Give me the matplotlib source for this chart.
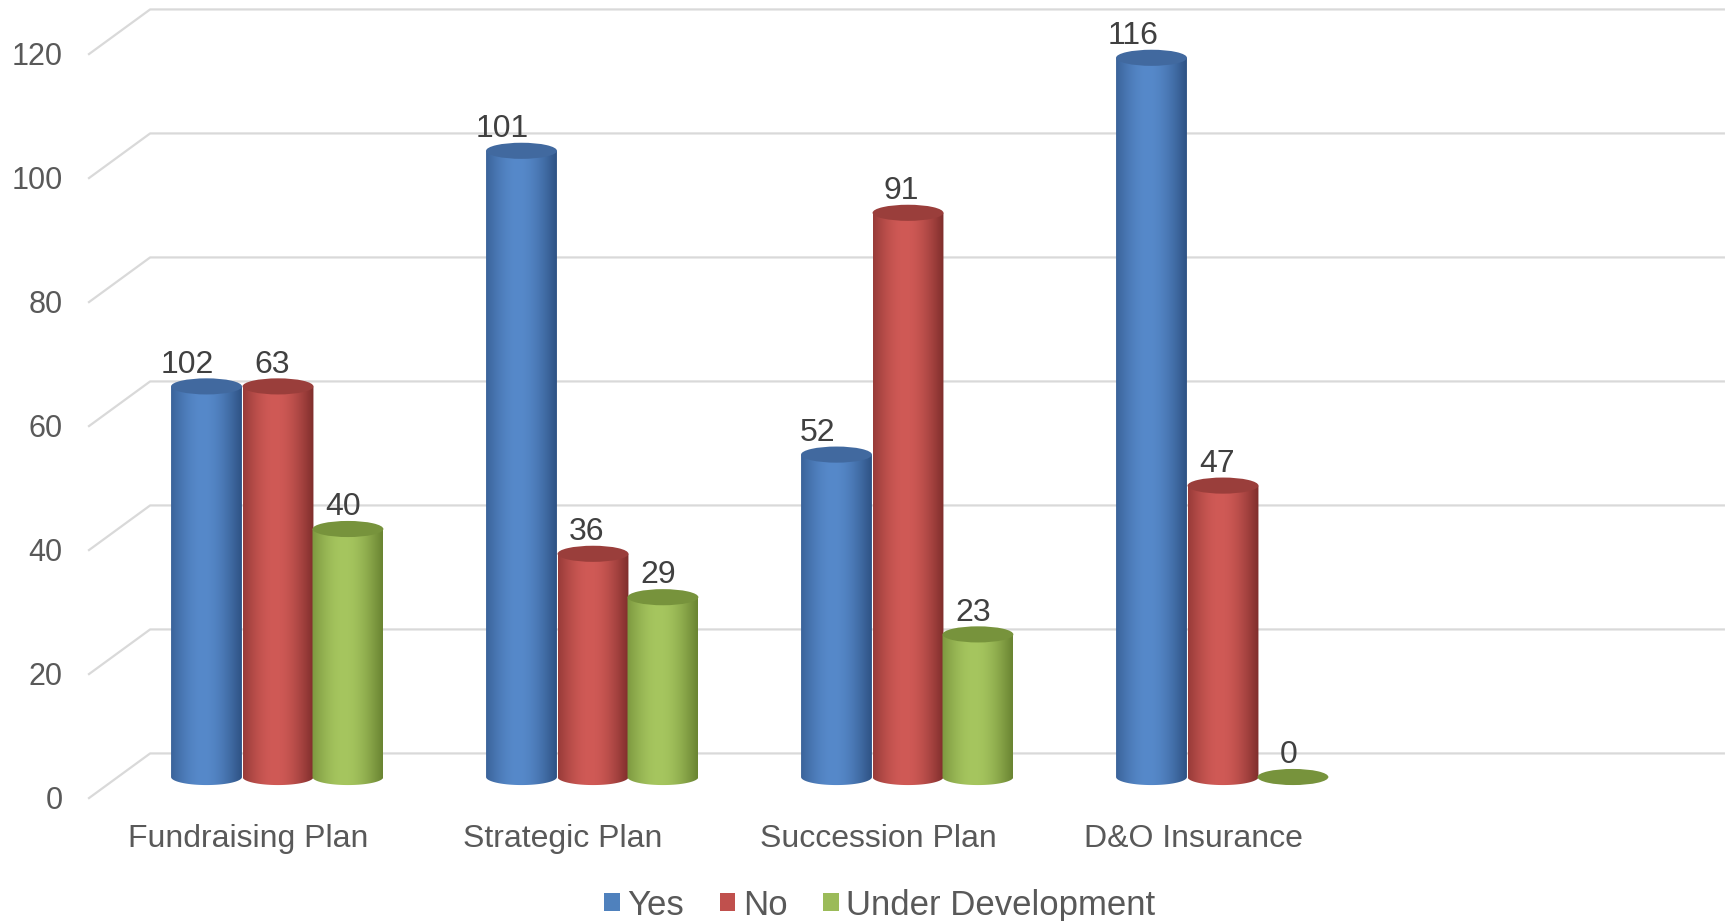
import numpy as np
import matplotlib
matplotlib.use("Agg")
import matplotlib.pyplot as plt
from matplotlib.patches import Ellipse, PathPatch, Patch
from matplotlib.path import Path
from matplotlib.colors import to_rgb

plt.rcParams['font.family'] = ['Liberation Sans', 'DejaVu Sans']

categories = ['Fundraising Plan', 'Strategic Plan', 'Succession Plan', 'D&O Insurance']
series = ['Yes', 'No', 'Under Development']
# printed labels
yes_labels = [102, 101, 52, 116]
no_labels = [63, 36, 91, 47]
ud_labels = [40, 29, 23, 0]
# heights as drawn in the source chart (Fundraising "Yes" bar is drawn at ~63)
yes_heights = [63, 101, 52, 116]
no_heights = [63, 36, 91, 47]
ud_heights = [40, 29, 23, 0]
yticks = [0, 20, 40, 60, 80, 100, 120]

base_colors = ['#4F81BD', '#C0504D', '#9BBB59']
dark_colors = ['#2c4f80', '#7a2b29', '#66802f']
light_colors = ['#5689ca', '#d05a56', '#a6c65f']
top_colors = ['#41699f', '#9a3e3b', '#77933c']

W, H = 1727, 921
fig = plt.figure(figsize=(W / 100, H / 100), dpi=100)
ax = fig.add_axes([0, 0, 1, 1])
# pixel mapping: x_px = 278 + 315*x ; y_px(top) = 777 - 6.2*v
ax.set_xlim(-278 / 315, (W - 278) / 315)
ax.set_ylim((777 - H) / 6.2, 777 / 6.2)
ax.axis('off')

back = 3.8
x_front, x_back, x_right = -0.6, -0.406, 4.59
for t in yticks:
    ax.plot([x_front, x_back, x_right], [t - 3.4, t + back, t + back],
            color='#d9d9d9', lw=1.6, zorder=1)
    ax.text(-0.684, t - 3.9, str(t), ha='right', va='center',
            fontsize=22, color='#595959')

bw = 0.225
eh = 2.6
offsets = [-0.227, 0.0, 0.222]
label_shift = [-0.06, -0.02, -0.015]
heights = [yes_heights, no_heights, ud_heights]
labels = [yes_labels, no_labels, ud_labels]

tt = np.linspace(0, 1, 200)
prof = np.where(tt < 0.45, 0.35 + 0.65 * np.sin(tt / 0.45 * np.pi / 2),
                np.cos((tt - 0.45) / 0.55 * np.pi / 2) * 0.95 + 0.05)

for s in range(3):
    dk = np.array(to_rgb(dark_colors[s]))
    lt = np.array(to_rgb(light_colors[s]))
    grad = dk[None, :] + (lt - dk)[None, :] * prof[:, None]
    grad = grad[None, :, :]
    for i, v in enumerate(heights[s]):
        xc = i + offsets[s]
        x0, x1 = xc - bw / 2, xc + bw / 2
        if v > 0:
            ang = np.linspace(np.pi, 2 * np.pi, 60)
            arc = np.column_stack([xc + bw / 2 * np.cos(ang), eh / 2 * np.sin(ang)])
            verts = np.vstack([[x0, v], [x0, 0], arc, [x1, v], [x0, v]])
            clip = PathPatch(Path(verts), fc='none', ec='none', transform=ax.transData)
            ax.add_patch(clip)
            im = ax.imshow(grad, extent=[x0, x1, -eh, v], aspect='auto',
                           zorder=2 + s, interpolation='bilinear')
            im.set_clip_path(clip)
        ax.add_patch(Ellipse((xc, v), bw, eh, fc=top_colors[s], ec='none', zorder=2 + s))
        ax.text(xc + label_shift[s], v + 1.1, str(labels[s][i]), ha='center', va='bottom',
                fontsize=23, color='#404040', zorder=10)

ax.set_xlim(-278 / 315, (W - 278) / 315)
ax.set_ylim((777 - H) / 6.2, 777 / 6.2)

for i, c in enumerate(categories):
    ax.text(i - 0.095, -10.0, c, ha='center', va='center', fontsize=23, color='#595959')

handles = [Patch(fc=base_colors[s], ec='none') for s in range(3)]
fig.legend(handles, series, loc='center', bbox_to_anchor=(880 / W, 1 - 905 / H), ncol=3,
           frameon=False, handlelength=0.45, handleheight=0.45, handletextpad=0.22,
           columnspacing=1.02, prop={'size': 25}, labelcolor='#595959')

fig.savefig('out.png', dpi=100)
